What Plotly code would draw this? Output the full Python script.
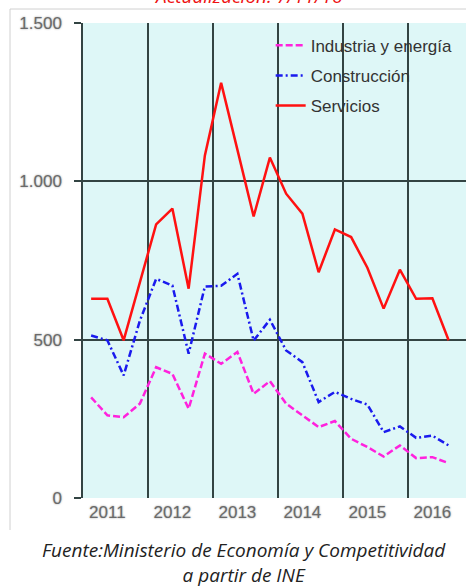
import plotly.graph_objects as go

quarters = [2011.125, 2011.375, 2011.625, 2011.875,
            2012.125, 2012.375, 2012.625, 2012.875,
            2013.125, 2013.375, 2013.625, 2013.875,
            2014.125, 2014.375, 2014.625, 2014.875,
            2015.125, 2015.375, 2015.625, 2015.875,
            2016.125, 2016.375, 2016.625]

industria = [318, 261, 255, 298, 413, 392, 282, 456, 424, 461, 329, 369,
             298, 261, 224, 243, 187, 161, 131, 166, 126, 129, 110]
construccion = [513, 498, 387, 560, 692, 671, 456, 668, 670, 708, 497, 563,
                466, 429, 303, 335, 313, 295, 208, 226, 190, 197, 166]
servicios = [629, 629, 498, 685, 864, 914, 661, 1082, 1311, 1100, 889, 1075,
             961, 898, 713, 848, 824, 727, 598, 721, 629, 631, 498]

year_labels = ["2011", "2012", "2013", "2014", "2015", "2016"]
year_label_pos = [2011.375, 2012.375, 2013.375, 2014.375, 2015.375, 2016.375]
y_ticks = [0, 500, 1000, 1500]
y_tick_text = ["0", "500", "1.000", "1.500"]

W, H = 466, 587
ML, MR, MT, MB = 83, 0, 23, 89

fig = go.Figure()
fig.add_trace(go.Scatter(x=quarters, y=industria, mode="lines", name="Industria y energía",
                         legendgroup="a",
                         line=dict(color="#ff22dd", width=2.5, dash="7px,3px")))
fig.add_trace(go.Scatter(x=quarters, y=construccion, mode="lines", name="Construcción",
                         legendgroup="b",
                         line=dict(color="#1a1aee", width=2.5, dash="7px,3px,2px,3px")))
fig.add_trace(go.Scatter(x=quarters, y=servicios, mode="lines", name="Servicios",
                         legendgroup="c",
                         line=dict(color="#ff1111", width=2.5)))

tick_font = dict(family="Liberation Sans, Arial", size=17, color="#6a6a6a",
                 shadow="0px 0px 2px #999999")

plot_w = W - ML - MR
x_right = 2011 + plot_w / 65.0

fig.update_layout(
    width=W, height=H,
    margin=dict(l=ML, r=MR, t=MT, b=MB),
    paper_bgcolor="white",
    plot_bgcolor="#def7f7",
    showlegend=True,
    legend=dict(x=0.49, y=0.99, xanchor="left", yanchor="top",
                bgcolor="rgba(0,0,0,0)", borderwidth=0,
                font=dict(family="Liberation Sans, Arial", size=17, color="#333333"),
                itemwidth=30, tracegroupgap=5),
    xaxis=dict(range=[2011, x_right], tickvals=year_label_pos, ticktext=year_labels,
               ticks="", showgrid=False, zeroline=False, showline=False,
               tickfont=tick_font, ticklabelstandoff=2,
               minor=dict(tick0=2011, dtick=1, showgrid=True, gridcolor="#334443",
                          gridwidth=1.5, ticks="")),
    yaxis=dict(range=[0, 1500], tickvals=y_ticks, ticktext=y_tick_text,
               ticks="outside", ticklen=7, tickcolor="#334443", tickwidth=1.5,
               showgrid=True, gridcolor="#334443", gridwidth=1.5,
               zeroline=False, showline=True, linecolor="#334443", linewidth=1.5,
               tickfont=tick_font, ticklabelstandoff=9),
)

def px_x(p):
    return (p - ML) / plot_w
def px_y(p):
    return 1 - (p - MT) / (H - MT - MB)

# outer frame (left and top edges)
fig.add_shape(type="line", xref="paper", yref="paper",
              x0=px_x(10), x1=px_x(10), y0=px_y(9), y1=px_y(530),
              line=dict(color="#d0d0d0", width=1))
fig.add_shape(type="line", xref="paper", yref="paper",
              x0=px_x(10), x1=px_x(W + 5), y0=px_y(9), y1=px_y(9),
              line=dict(color="#d0d0d0", width=1))

fig.add_annotation(text="Actualización: 7/11/16", xref="paper", yref="paper",
                   x=px_x(248), y=px_y(11), xanchor="center", yanchor="bottom",
                   showarrow=False,
                   font=dict(family="Open Sans", size=19, color="#ee1111", style="italic"))
fig.add_annotation(text="Fuente:Ministerio de Economía y Competitividad<br>a partir de INE",
                   xref="paper", yref="paper",
                   x=px_x(244), y=px_y(562), xanchor="center", yanchor="middle",
                   showarrow=False, align="center",
                   font=dict(family="Open Sans", size=19, color="#222222", style="italic"))

fig.write_html("out.html", config={"displayModeBar": False},
               post_script="document.body.style.margin='0';document.body.style.overflow='hidden';")
